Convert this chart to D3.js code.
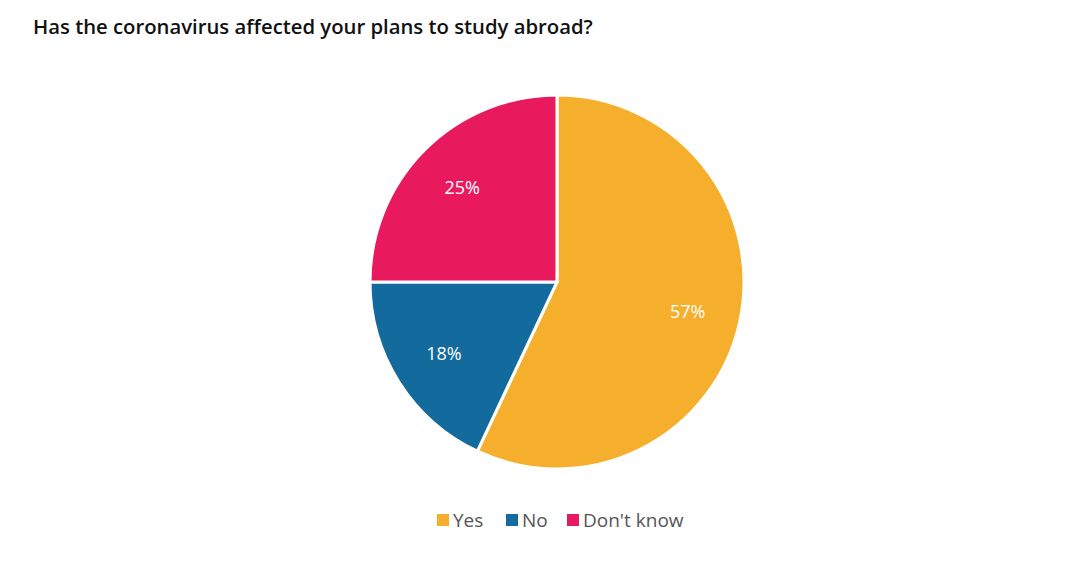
<!DOCTYPE html>
<html><head><meta charset="utf-8">
<script src="https://cdn.jsdelivr.net/npm/d3@7"></script>
<style>body{margin:0;background:#fff;} svg{display:block;}</style>
</head><body>
<svg id="chart" width="1080" height="561"></svg>
<script>
const categories = ["Yes", "No", "Don't know"];
const values = [57, 18, 25];
const colors = ["#F6AE2D", "#136A9C", "#E9195E"];

const svg = d3.select("#chart");
const W = 1080, H = 561;
svg.append("rect").attr("width", W).attr("height", H).attr("fill", "#fff");

svg.append("text").attr("x", 33).attr("y", 34)
  .attr("font-family", "Open Sans").attr("font-weight", 600).attr("font-size", 20.3)
  .attr("fill", "#111").text("Has the coronavirus affected your plans to study abroad?");

const cx = 557, cy = 282, r = 187;
const data = categories.map((c, i) => ({cat: c, value: values[i], color: colors[i]}));
const pie = d3.pie().value(d => d.value).sort(null);
const arcs = pie(data);
const arc = d3.arc().innerRadius(0).outerRadius(r);
const labelArc = d3.arc().innerRadius(134).outerRadius(134);
const g = svg.append("g").attr("transform", `translate(${cx},${cy})`);
g.selectAll("path").data(arcs).join("path")
  .attr("d", arc).attr("fill", d => d.data.color)
  .attr("stroke", "#fff").attr("stroke-width", 3).attr("stroke-linejoin", "miter");
g.selectAll("text").data(arcs).join("text")
  .attr("transform", d => `translate(${labelArc.centroid(d)})`)
  .attr("text-anchor", "middle").attr("dy", "0.35em")
  .attr("font-family", "Open Sans").attr("font-size", 18).attr("fill", "#fff")
  .text(d => d.data.value + "%");

// legend
const legend = svg.append("g").attr("font-family", "Open Sans").attr("font-size", 19).attr("fill", "#555");
const xs = [437, 506, 567];
data.forEach((d, i) => {
  legend.append("rect").attr("x", xs[i]).attr("y", 514).attr("width", 12).attr("height", 12).attr("fill", d.color);
  legend.append("text").attr("x", xs[i] + 16).attr("y", 527).text(d.cat);
});
</script>
</body></html>
